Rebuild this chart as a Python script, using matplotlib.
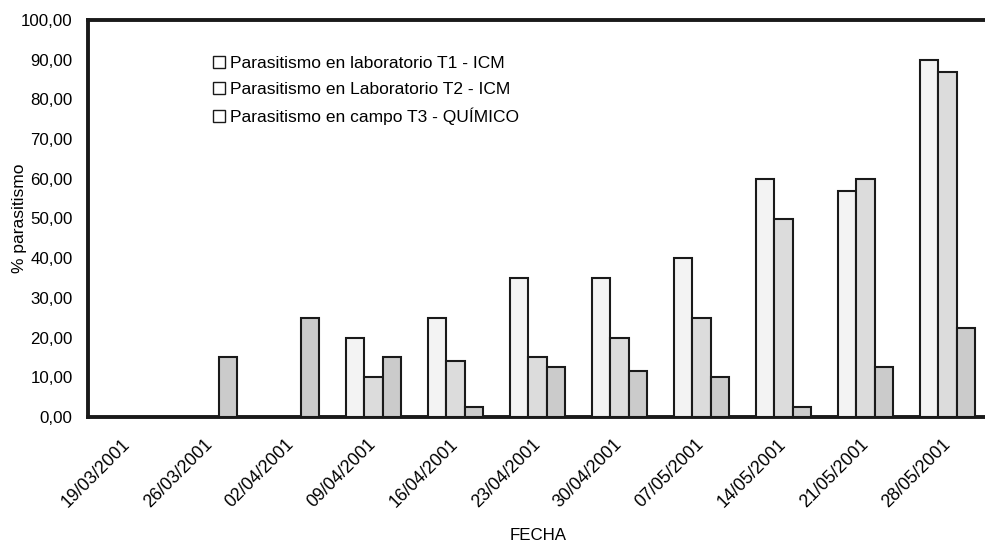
import matplotlib
matplotlib.use("Agg")
import matplotlib.pyplot as plt
from matplotlib.lines import Line2D
import numpy as np

plt.rcParams['font.family'] = ['Liberation Sans', 'DejaVu Sans']

fechas = ['19/03/2001', '26/03/2001', '02/04/2001', '09/04/2001', '16/04/2001',
          '23/04/2001', '30/04/2001', '07/05/2001', '14/05/2001', '21/05/2001',
          '28/05/2001']
lab_t1 = [0, 0, 0, 20, 25, 35, 35, 40, 60, 57, 90]
lab_t2 = [0, 0, 0, 10, 14, 15, 20, 25, 50, 60, 87]
campo_t3 = [0, 15, 25, 15, 2.5, 12.5, 11.5, 10, 2.5, 12.5, 22.5]

series = [
    ('Parasitismo en laboratorio T1 - ICM', lab_t1, '#f3f3f3'),
    ('Parasitismo en Laboratorio T2 - ICM', lab_t2, '#dcdcdc'),
    ('Parasitismo en campo T3 - QUÍMICO', campo_t3, '#cbcbcb'),
]

W, H = 985, 544
fig = plt.figure(figsize=(W / 100, H / 100), dpi=100)
ax = fig.add_axes([88 / W, 1 - 417 / H, 1 - 88 / W, (417 - 20) / H])

x = np.arange(len(fechas))
w = 0.226
for k, (name, vals, col) in enumerate(series):
    v = np.array(vals, dtype=float)
    pos = x + (k - 1) * w
    keep = v > 0
    ax.bar(pos[keep], v[keep], width=w, color=col, edgecolor='#1a1a1a',
           linewidth=1.5, zorder=3)

ax.set_xlim(-0.482, 10.457)
ax.set_ylim(0, 100)
ax.set_yticks(np.arange(0, 101, 10))
ax.set_yticklabels(['%d,00' % v for v in range(0, 101, 10)], fontsize=12.2)
ax.set_xticks(x)
ax.set_xticklabels(fechas, rotation=45, ha='right', va='center',
                   rotation_mode='anchor', fontsize=12.8)
ax.tick_params(axis='x', length=0, pad=18)
ax.tick_params(axis='y', length=0, pad=11)

for side in ['left', 'bottom', 'top']:
    ax.spines[side].set_linewidth(2.8)
    ax.spines[side].set_color('#1a1a1a')
ax.spines['right'].set_visible(False)

ax.set_ylabel('% parasitismo', fontsize=12.5)
ax.yaxis.set_label_coords(-61 / (W - 88), 0.5)
fig.text(538 / W, 1 - 535 / H, 'FECHA', ha='center', va='center', fontsize=12.2)

handles = [Line2D([], [], marker='s', ls='', mfc='white', mec='#1a1a1a',
                  ms=9, mew=1.0) for _ in series]
ax.legend(handles, [s[0] for s in series], loc='upper left',
          bbox_to_anchor=(214 / W, 1 - 56 / H), bbox_transform=fig.transFigure,
          frameon=False, fontsize=12.5, handlelength=0.6, handletextpad=0.35,
          labelspacing=0.62, borderpad=0, borderaxespad=0)

fig.savefig('out.png', dpi=100)
